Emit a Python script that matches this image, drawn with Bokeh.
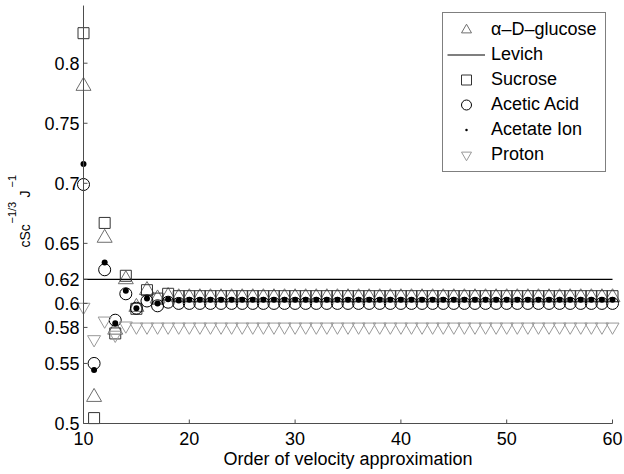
from math import pi

from bokeh.plotting import figure
from bokeh.models import Range1d, Legend, LegendItem
from bokeh.core.properties import value
from bokeh.embed import file_html
from bokeh.resources import INLINE

FONT = "Liberation Sans"

# Order of the velocity approximation (x) and the dimensionless flux for each species
order = list(range(10, 61))

glucose = [0.781, 0.522, 0.6545, 0.578, 0.620, 0.597, 0.611, 0.604, 0.606, 0.605,
           0.605, 0.605, 0.605, 0.605, 0.605, 0.605, 0.605, 0.605, 0.605, 0.605,
           0.605, 0.605, 0.605, 0.605, 0.605, 0.605, 0.605, 0.605, 0.605, 0.605,
           0.605, 0.605, 0.605, 0.605, 0.605, 0.605, 0.605, 0.605, 0.605, 0.605,
           0.605, 0.605, 0.605, 0.605, 0.605, 0.605, 0.605, 0.605, 0.605, 0.605,
           0.605]

sucrose = [0.825, 0.5045, 0.667, 0.575, 0.623, 0.5955, 0.611, 0.604, 0.608, 0.606,
           0.606, 0.606, 0.606, 0.606, 0.606, 0.606, 0.606, 0.606, 0.606, 0.606,
           0.606, 0.606, 0.606, 0.606, 0.606, 0.606, 0.606, 0.606, 0.606, 0.606,
           0.606, 0.606, 0.606, 0.606, 0.606, 0.606, 0.606, 0.606, 0.606, 0.606,
           0.606, 0.606, 0.606, 0.606, 0.606, 0.606, 0.606, 0.606, 0.606, 0.606,
           0.606]

acetic_acid = [0.699, 0.550, 0.628, 0.586, 0.608, 0.596, 0.602, 0.598, 0.601, 0.600,
               0.600, 0.600, 0.600, 0.600, 0.600, 0.600, 0.600, 0.600, 0.600, 0.600,
               0.600, 0.600, 0.600, 0.600, 0.600, 0.600, 0.600, 0.600, 0.600, 0.600,
               0.600, 0.600, 0.600, 0.600, 0.600, 0.600, 0.600, 0.600, 0.600, 0.600,
               0.600, 0.600, 0.600, 0.600, 0.600, 0.600, 0.600, 0.600, 0.600, 0.600,
               0.600]

acetate_ion = [0.716, 0.5445, 0.634, 0.5835, 0.6105, 0.596, 0.604, 0.600, 0.6035, 0.6025,
               0.603, 0.603, 0.603, 0.603, 0.603, 0.603, 0.603, 0.603, 0.603, 0.603,
               0.603, 0.603, 0.603, 0.603, 0.603, 0.603, 0.603, 0.603, 0.603, 0.603,
               0.603, 0.603, 0.603, 0.603, 0.603, 0.603, 0.603, 0.603, 0.603, 0.603,
               0.603, 0.603, 0.603, 0.603, 0.603, 0.603, 0.603, 0.603, 0.603, 0.603,
               0.603]

proton = [0.597, 0.570, 0.5855, 0.5737, 0.5814, 0.5805, 0.5805, 0.5805, 0.5805, 0.5805,
          0.5805, 0.5805, 0.5805, 0.5805, 0.5805, 0.5805, 0.5805, 0.5805, 0.5805, 0.5805,
          0.5805, 0.5805, 0.5805, 0.5805, 0.5805, 0.5805, 0.5805, 0.5805, 0.5805, 0.5805,
          0.5805, 0.5805, 0.5805, 0.5805, 0.5805, 0.5805, 0.5805, 0.5805, 0.5805, 0.5805,
          0.5805, 0.5805, 0.5805, 0.5805, 0.5805, 0.5805, 0.5805, 0.5805, 0.5805, 0.5805,
          0.5805]

# Levich limit
levich_x = [10, 60]
levich_y = [0.62, 0.62]

x_ticks = [10, 20, 30, 40, 50, 60]
x_tick_labels = ["10", "20", "30", "40", "50", "60"]
y_ticks = [0.5, 0.55, 0.58, 0.6, 0.62, 0.65, 0.7, 0.75, 0.8]
y_tick_labels = ["0.5", "0.55", "0.58", "0.6", "0.62", "0.65", "0.7", "0.75", "0.8"]
y_axis_top = 0.848

# Page geometry in pixels. The plotting frame covers the whole page, and the
# axes, their labels and titles are drawn inside it.
W, H = 624, 474
X0_PX, X1_PX = 83, 612      # x = 10 and x = 60
Y0_PX, Y1_PX = 423, 62.7    # y = 0.5 and y = 0.8
PX_PER_X = (X1_PX - X0_PX) / (x_ticks[-1] - x_ticks[0])
PX_PER_Y = (Y0_PX - Y1_PX) / (y_ticks[-1] - y_ticks[0])
X_START = x_ticks[0] - X0_PX / PX_PER_X
X_END = x_ticks[0] + (W - X0_PX) / PX_PER_X
Y_START = y_ticks[0] - (H - Y0_PX) / PX_PER_Y
Y_END = y_ticks[0] + Y0_PX / PX_PER_Y
AXIS_COLOR = "#4d4d4d"
TICK_LEN = 4


def px_x(px):
    return X_START + px / PX_PER_X


def px_y(py):
    return Y_START + (H - py) / PX_PER_Y


p = figure(width=W, height=H, output_backend="svg", toolbar_location=None,
           x_range=Range1d(X_START, X_END), y_range=Range1d(Y_START, Y_END),
           min_border=0, min_border_left=0, min_border_right=0,
           min_border_top=0, min_border_bottom=0)
p.outline_line_color = None
p.grid.visible = False
p.axis.visible = False
p.background_fill_color = "white"
p.border_fill_color = "white"

# markers
r_glu = p.scatter(order, glucose, marker="triangle", size=15, fill_color=None,
                  line_color="#6e6e6e", line_width=1)
r_lev = p.line(levich_x, levich_y, line_color="black", line_width=1.2)
r_suc = p.scatter(order, sucrose, marker="square", size=11, fill_color=None,
                  line_color="#333333", line_width=1)
r_aca = p.scatter(order, acetic_acid, marker="circle", size=12, fill_color=None,
                  line_color="black", line_width=1)
r_ion = p.scatter(order, acetate_ion, marker="dot", size=24, fill_color="black",
                  line_color="black")
r_pro = p.scatter(order, proton, marker="inverted_triangle", size=13, fill_color=None,
                  line_color="#999999", line_width=1)

# ---- x axis: line, inward ticks, tick labels and title
n_x = len(x_ticks)
p.segment(x0=[x_ticks[0]], y0=[y_ticks[0]], x1=[x_ticks[-1]], y1=[y_ticks[0]],
          line_color=AXIS_COLOR, line_width=1)
p.segment(x0=x_ticks, y0=[y_ticks[0]] * n_x, x1=x_ticks,
          y1=[y_ticks[0] + TICK_LEN / PX_PER_Y] * n_x,
          line_color=AXIS_COLOR, line_width=1)
p.text(x=x_ticks, y=[px_y(438)] * n_x, text=x_tick_labels,
       text_font=value(FONT), text_font_size="18px", text_color="black",
       text_align="center", text_baseline="middle")
p.text(x=[(x_ticks[0] + x_ticks[-1]) / 2], y=[px_y(458)],
       text=["Order of velocity approximation"],
       text_font=value(FONT), text_font_size="18px", text_color="black",
       text_align="center", text_baseline="middle")

# ---- y axis at x = 10: line, inward ticks, tick labels and title
n_y = len(y_ticks)
p.segment(x0=[x_ticks[0]], y0=[y_ticks[0]], x1=[x_ticks[0]], y1=[y_axis_top],
          line_color=AXIS_COLOR, line_width=1)
p.segment(x0=[x_ticks[0]] * n_y, y0=y_ticks,
          x1=[x_ticks[0] + TICK_LEN / PX_PER_X] * n_y, y1=y_ticks,
          line_color=AXIS_COLOR, line_width=1)
p.text(x=[x_ticks[0] - 4 / PX_PER_X] * n_y, y=y_ticks, text=y_tick_labels,
       text_font=value(FONT), text_font_size="18px", text_color="black",
       text_align="right", text_baseline="middle")

# title cSc^{-1/3} J^{-1}, read bottom to top
main_parts = dict(x=[px_x(24), px_x(24)], y=[px_y(247), px_y(197)],
                  text=["cSc", "J"])
sup_parts = dict(x=[px_x(11), px_x(11)], y=[px_y(223), px_y(187)],
                 text=["\u22121/3", "\u22121"])
p.text(x="x", y="y", text="text", source=main_parts, angle=pi / 2,
       text_font=value(FONT), text_font_size="14px", text_color="black",
       text_align="left", text_baseline="middle")
p.text(x="x", y="y", text="text", source=sup_parts, angle=pi / 2,
       text_font=value(FONT), text_font_size="11px", text_color="black",
       text_align="left", text_baseline="middle")

# ---- legend
legend = Legend(items=[
    LegendItem(label="\u03b1\u2013D\u2013glucose", renderers=[r_glu]),
    LegendItem(label="Levich", renderers=[r_lev]),
    LegendItem(label="Sucrose", renderers=[r_suc]),
    LegendItem(label="Acetic Acid", renderers=[r_aca]),
    LegendItem(label="Acetate Ion", renderers=[r_ion]),
    LegendItem(label="Proton", renderers=[r_pro]),
])
legend.padding = 4
legend.spacing = 0
legend.glyph_width = 38
legend.glyph_height = 25
legend.label_height = 25
legend.label_width = 110
legend.label_standoff = 6
legend.margin = 0
legend.location = (442, H - 14 - (2 * 4 + 6 * 25))
legend.label_text_font = FONT
legend.label_text_font_size = "18px"
legend.label_text_color = "black"
legend.border_line_color = "black"
legend.border_line_width = 1
legend.background_fill_color = "white"
legend.background_fill_alpha = 1.0
p.add_layout(legend)

open("out.html", "w").write(file_html(p, INLINE))
